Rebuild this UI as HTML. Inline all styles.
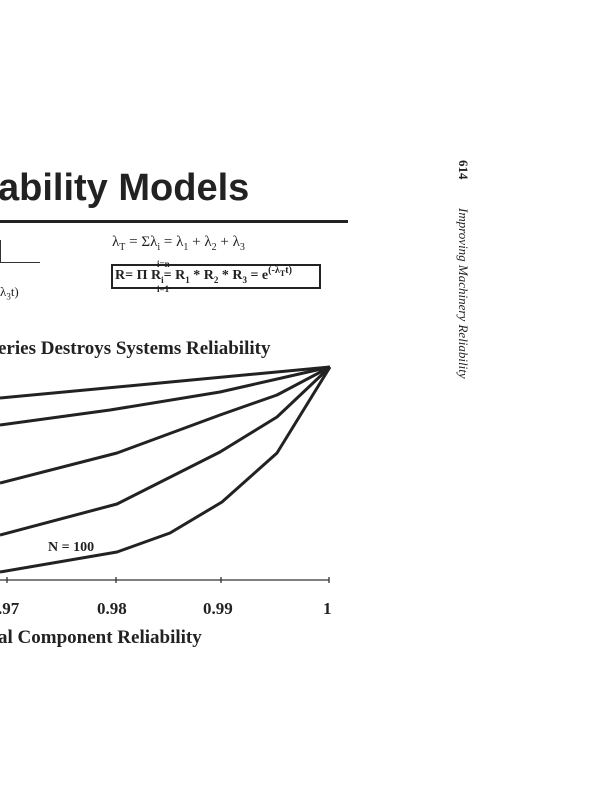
<!DOCTYPE html>
<html><head><style>
body{margin:0;background:#fff;width:616px;height:800px;overflow:hidden;position:relative;font-family:"Liberation Serif",serif;color:#222}
.a{position:absolute;white-space:nowrap}
sub,sup{line-height:0}
</style></head><body>
<div class="a" style="left:-2px;top:167px;font-family:'Liberation Sans',sans-serif;font-weight:bold;font-size:38px;color:#222">ability Models</div>
<div class="a" style="left:0;top:220px;width:348px;height:3px;background:#222"></div>
<div class="a" style="left:0;top:262px;width:40px;height:1px;background:#333"></div>
<div class="a" style="left:0;top:240px;width:1px;height:22px;background:#333"></div>
<div class="a" style="left:0;top:284px;font-size:13px">&#955;<sub style="font-size:9px">3</sub>t)</div>
<div class="a" style="left:112px;top:234px;font-size:15px">&#955;<sub style="font-size:10px">T</sub> = &#931;&#955;<sub style="font-size:10px">i</sub> = &#955;<sub style="font-size:10px">1</sub> + &#955;<sub style="font-size:10px">2</sub> + &#955;<sub style="font-size:10px">3</sub></div>
<div class="a" style="left:111px;top:264px;width:206px;height:21px;border:2px solid #222"></div>
<div class="a" style="left:157px;top:260px;font-size:9px;font-weight:bold;line-height:9px">i=n</div>
<div class="a" style="left:157px;top:285px;font-size:9px;font-weight:bold;line-height:9px">i=1</div>
<div class="a" style="left:115px;top:268px;font-size:14px;font-weight:bold;line-height:16px">R= &#928; R<sub style="font-size:9px">i</sub>= R<sub style="font-size:9px">1</sub> * R<sub style="font-size:9px">2</sub> * R<sub style="font-size:9px">3</sub> = e<sup style="font-size:10px">(-&#955;<sub>T</sub>t)</sup></div>
<div class="a" style="left:-2px;top:338px;font-size:19px;font-weight:bold">eries Destroys Systems Reliability</div>
<svg class="a" style="left:0;top:0" width="616" height="800">
<g fill="none" stroke="#222" stroke-width="3" stroke-linejoin="round">
<polyline points="0,398 330,367"/>
<polyline points="0,425 110,410 220,392 330,367"/>
<polyline points="0,483 117,453 220,415 277,395 330,367"/>
<polyline points="0,535 117,504 220,452 277,417 330,367"/>
<polyline points="0,572 117,552 170,533 222,502 277,453 330,367"/>
</g>
<g stroke="#333" stroke-width="1.3">
<line x1="0" y1="580" x2="329" y2="580"/>
<line x1="7" y1="577" x2="7" y2="583"/><line x1="116" y1="577" x2="116" y2="583"/>
<line x1="221" y1="577" x2="221" y2="583"/><line x1="329" y1="577" x2="329" y2="583"/>
</g>
</svg>
<div class="a" style="left:48px;top:540px;font-size:14px;font-weight:bold">N = 100</div>
<div class="a" style="left:-2px;top:599px;font-size:17px;font-weight:bold">.97</div>
<div class="a" style="left:97px;top:599px;font-size:17px;font-weight:bold">0.98</div>
<div class="a" style="left:203px;top:599px;font-size:17px;font-weight:bold">0.99</div>
<div class="a" style="left:323px;top:599px;font-size:17px;font-weight:bold">1</div>
<div class="a" style="left:-2px;top:627px;font-size:19px;font-weight:bold">al Component Reliability</div>
<div class="a" style="left:455px;top:160px;width:16px;height:200px">
<div style="transform:rotate(90deg);transform-origin:0 0;position:absolute;left:16px;top:0;font-size:13px;font-weight:bold;white-space:nowrap">614</div>
<div style="transform:rotate(90deg);transform-origin:0 0;position:absolute;left:16px;top:48px;font-size:13px;font-style:italic;white-space:nowrap">Improving Machinery Reliability</div>
</div>
</body></html>
